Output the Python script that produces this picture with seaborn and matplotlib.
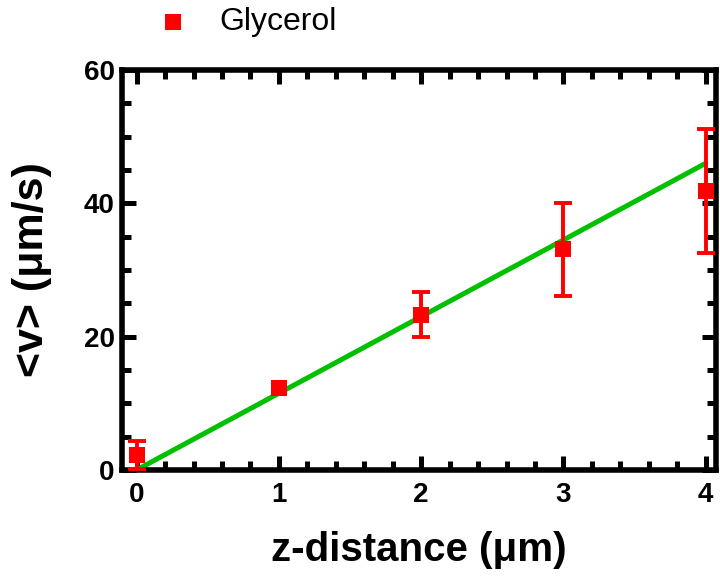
import matplotlib
matplotlib.use("Agg")
import matplotlib.pyplot as plt
from matplotlib.ticker import MultipleLocator
import seaborn as sns
import pandas as pd

# Measured mean velocity versus distance from the surface
z_distance = [0, 1, 2, 3, 4]
velocity = [2.3, 12.3, 23.3, 33.1, 41.8]
velocity_err = [2.1, 0.0, 3.4, 7.0, 9.3]
series_label = "Glycerol"

# Linear fit drawn over the measured range
fit_z = [0, 4]
fit_v = [0, 46]

x_ticks = [0, 1, 2, 3, 4]
y_ticks = [0, 20, 40, 60]

sns.set_theme(style="ticks")
plt.rcParams["font.family"] = ["Liberation Sans", "DejaVu Sans"]
for key in ["text.color", "axes.labelcolor", "xtick.color", "ytick.color",
            "axes.edgecolor"]:
    plt.rcParams[key] = "black"

red = "#ff0000"
green = "#00c000"

fig = plt.figure(figsize=(7.2, 5.78), dpi=100)
ax = fig.add_axes([0.169, 0.187, 0.825, 0.692])

fit_df = pd.DataFrame({"z": fit_z, "v": fit_v})
sns.lineplot(data=fit_df, x="z", y="v", ax=ax, color=green, linewidth=3.6,
             zorder=2, legend=False)

# error bars only where a spread was measured
data_df = pd.DataFrame({"z": z_distance, "v": velocity, "err": velocity_err})
with_err = data_df[data_df["err"] > 0]
ax.errorbar(with_err["z"], with_err["v"], yerr=with_err["err"], fmt="none",
            ecolor=red, elinewidth=2.8, capsize=6.5, capthick=2.8, zorder=3)

sns.scatterplot(data=data_df, x="z", y="v", ax=ax, color=red, marker="s",
                s=130, linewidth=0, zorder=4, label=series_label, legend=False)

ax.set_xlim(-0.105, 4.07)
ax.set_ylim(0, 60)
ax.set_xticks(x_ticks)
ax.set_yticks(y_ticks)
ax.xaxis.set_minor_locator(MultipleLocator(0.2))
ax.yaxis.set_minor_locator(MultipleLocator(5))

for side in ["left", "right", "top", "bottom"]:
    ax.spines[side].set_visible(True)
    ax.spines[side].set_linewidth(4)
    ax.spines[side].set_color("black")

ax.tick_params(which="both", direction="in", top=True, right=True,
               labeltop=False, labelright=False, color="black")
ax.tick_params(which="major", length=10, width=3.6, labelsize=20)
ax.tick_params(axis="x", which="major", pad=9)
ax.tick_params(axis="y", which="major", pad=5)
ax.tick_params(which="minor", length=6.5, width=3.6)
for lbl in ax.get_xticklabels() + ax.get_yticklabels():
    lbl.set_fontweight("bold")

ax.set_xlabel("z-distance (μm)", fontsize=29, fontweight="bold", labelpad=16)
ax.set_ylabel("<v> (μm/s)", fontsize=31, fontweight="bold", labelpad=23)

handles, labels = ax.get_legend_handles_labels()
fig.legend(handles, labels, loc="center left", bbox_to_anchor=(0.198, 0.962),
           frameon=False, fontsize=23, handlelength=1.9, handletextpad=0.5,
           borderpad=0, borderaxespad=0)

fig.savefig("out.png", dpi=100)
